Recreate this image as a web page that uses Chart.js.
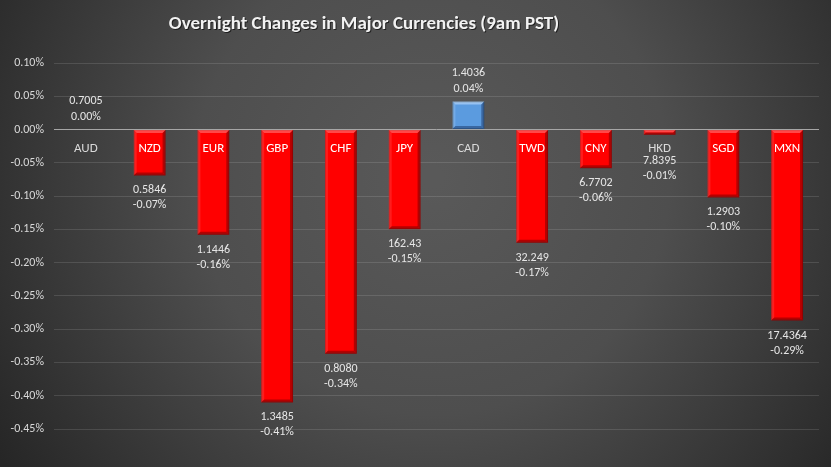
<!DOCTYPE html>
<html>
<head>
<meta charset="utf-8">
<script src="https://cdn.jsdelivr.net/npm/chart.js@4/dist/chart.umd.min.js"></script>
<style>
  html, body { margin: 0; padding: 0; background: #3a3a3a; }
  #wrap { width: 831px; height: 467px; position: relative; }
</style>
</head>
<body>
<div id="wrap"><canvas id="c" width="831" height="467"></canvas></div>
<script>
const titleText = 'Overnight Changes in Major Currencies (9am PST)';
const currencies = ['AUD','NZD','EUR','GBP','CHF','JPY','CAD','TWD','CNY','HKD','SGD','MXN'];
const changes = [0.000, -0.069, -0.158, -0.410, -0.337, -0.150, 0.042, -0.170, -0.058, -0.008, -0.102, -0.287];
const changeLabels = ['0.00%','-0.07%','-0.16%','-0.41%','-0.34%','-0.15%','0.04%','-0.17%','-0.06%','-0.01%','-0.10%','-0.29%'];
const prices = ['0.7005','0.5846','1.1446','1.3485','0.8080','162.43','1.4036','32.249','6.7702','7.8395','1.2903','17.4364'];
const yMin = -0.45, yMax = 0.10, yStep = 0.05;

const FONT = 'Carlito, Calibri, Lato, "Liberation Sans", sans-serif';

const bgPlugin = {
  id: 'bg',
  beforeDraw(chart) {
    const ctx = chart.ctx, w = chart.width, h = chart.height;
    ctx.save();
    const g = ctx.createRadialGradient(w * 0.52, h * 0.38, 10, w * 0.52, h * 0.38, w * 0.62);
    g.addColorStop(0, '#595959');
    g.addColorStop(0.45, '#4e4e4e');
    g.addColorStop(1, '#262626');
    ctx.fillStyle = g;
    ctx.fillRect(0, 0, w, h);
    // title
    ctx.font = 'bold 19px ' + FONT;
    ctx.textAlign = 'center';
    ctx.textBaseline = 'middle';
    ctx.fillStyle = 'rgba(0,0,0,0.6)';
    ctx.fillText(titleText, 365, 25);
    ctx.fillStyle = '#f2f2f2';
    ctx.fillText(titleText, 364, 24);
    ctx.restore();
  }
};

const bevelPlugin = {
  id: 'bevel',
  afterDatasetsDraw(chart) {
    const ctx = chart.ctx;
    const meta = chart.getDatasetMeta(0);
    ctx.save();
    meta.data.forEach((bar, i) => {
      const v = changes[i];
      if (v === 0) return;
      const left = bar.x - bar.width / 2, right = bar.x + bar.width / 2;
      const top = Math.min(bar.y, bar.base), bottom = Math.max(bar.y, bar.base);
      const hgt = bottom - top;
      const b = Math.min(3, hgt / 2);
      const pos = v > 0;
      const light = pos ? 'rgba(200,225,255,0.55)' : 'rgba(255,120,120,0.6)';
      const dark = pos ? 'rgba(30,60,110,0.55)' : 'rgba(120,0,0,0.55)';
      ctx.fillStyle = light;
      ctx.beginPath();
      ctx.moveTo(left, top); ctx.lineTo(right, top); ctx.lineTo(right - b, top + b); ctx.lineTo(left + b, top + b); ctx.closePath(); ctx.fill();
      ctx.fillStyle = pos ? 'rgba(160,200,245,0.35)' : 'rgba(255,80,80,0.35)';
      ctx.beginPath();
      ctx.moveTo(left, top); ctx.lineTo(left + b, top + b); ctx.lineTo(left + b, bottom - b); ctx.lineTo(left, bottom); ctx.closePath(); ctx.fill();
      ctx.fillStyle = dark;
      ctx.beginPath();
      ctx.moveTo(right, top); ctx.lineTo(right - b, top + b); ctx.lineTo(right - b, bottom - b); ctx.lineTo(right, bottom); ctx.closePath(); ctx.fill();
      ctx.beginPath();
      ctx.moveTo(left, bottom); ctx.lineTo(left + b, bottom - b); ctx.lineTo(right - b, bottom - b); ctx.lineTo(right, bottom); ctx.closePath(); ctx.fill();
    });
    ctx.restore();
  }
};

const labelPlugin = {
  id: 'labels',
  afterDraw(chart) {
    const ctx = chart.ctx;
    const meta = chart.getDatasetMeta(0);
    const ys = chart.scales.y;
    const zeroY = ys.getPixelForValue(0);
    ctx.save();
    ctx.textAlign = 'center';
    ctx.textBaseline = 'middle';
    meta.data.forEach((bar, i) => {
      const v = changes[i];
      const x = bar.x;
      ctx.font = '13px ' + FONT;
      ctx.fillStyle = (v < 0 && Math.abs(ys.getPixelForValue(v) - zeroY) > 25) ? '#ffffff' : '#d9d9d9';
      ctx.fillText(currencies[i], x, zeroY + 19);
      ctx.font = '12px ' + FONT;
      ctx.fillStyle = '#e6e6e6';
      if (v >= 0) {
        const top = ys.getPixelForValue(v);
        ctx.fillText(changeLabels[i], x, top - 13);
        ctx.fillText(prices[i], x, top - 29);
      } else {
        const end = Math.max(ys.getPixelForValue(v), zeroY + 16);
        ctx.fillText(prices[i], x, end + 15);
        ctx.fillText(changeLabels[i], x, end + 30);
      }
    });
    ctx.restore();
  }
};

new Chart(document.getElementById('c'), {
  type: 'bar',
  data: {
    labels: currencies,
    datasets: [{
      data: changes,
      backgroundColor: changes.map(v => v > 0 ? '#5b9bdf' : '#ff0000'),
      borderColor: changes.map(v => v > 0 ? '#3f6f9f' : '#c00000'),
      borderWidth: 1,
      borderSkipped: false,
      categoryPercentage: 1.0,
      barPercentage: 0.5
    }]
  },
  options: {
    responsive: false,
    animation: false,
    devicePixelRatio: 1,
    layout: { padding: { top: 63, bottom: 38, right: 12, left: 0 } },
    plugins: { legend: { display: false }, tooltip: { enabled: false }, title: { display: false } },
    scales: {
      x: {
        ticks: { display: false },
        grid: { display: false, drawTicks: false },
        border: { display: false }
      },
      y: {
        min: yMin, max: yMax,
        afterFit(s) { s.width = 54; },
        ticks: {
          stepSize: yStep,
          color: '#d9d9d9',
          font: { family: FONT, size: 12 },
          padding: 10,
          callback(v) { const r = Math.abs(v) < 1e-9 ? 0 : v; return r.toFixed(2) + '%'; }
        },
        grid: {
          drawTicks: false,
          color: ctx => (ctx.tick && Math.abs(ctx.tick.value) < 1e-9) ? '#a6a6a6' : 'rgba(255,255,255,0.12)',
          lineWidth: 1
        },
        border: { display: false }
      }
    }
  },
  plugins: [bgPlugin, bevelPlugin, labelPlugin]
});
</script>
</body>
</html>
